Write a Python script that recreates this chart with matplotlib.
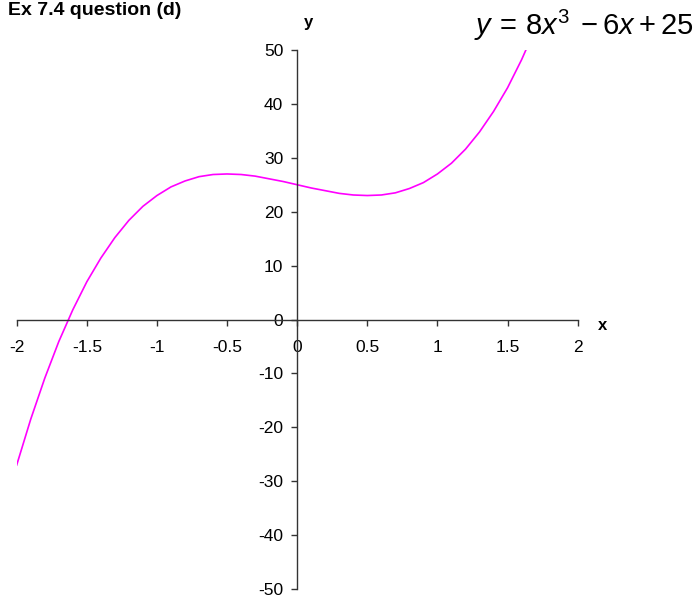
import numpy as np
import matplotlib
matplotlib.use("Agg")
import matplotlib.pyplot as plt

plt.rcParams["font.family"] = ["Liberation Sans", "DejaVu Sans"]
plt.rcParams["mathtext.fontset"] = "custom"
plt.rcParams["mathtext.rm"] = "Liberation Sans"
plt.rcParams["mathtext.it"] = "Liberation Sans:italic"

# Tabulated points of the cubic
x_vals = [-2.0, -1.9, -1.8, -1.7, -1.6, -1.5, -1.4, -1.3, -1.2, -1.1,
          -1.0, -0.9, -0.8, -0.7, -0.6, -0.5, -0.4, -0.3, -0.2, -0.1,
          0.0, 0.1, 0.2, 0.3, 0.4, 0.5, 0.6, 0.7, 0.8, 0.9,
          1.0, 1.1, 1.2, 1.3, 1.4, 1.5, 1.6, 1.7]
y_vals = [-27.0, -18.5, -10.9, -4.1, 1.8, 7.0, 11.4, 15.2, 18.4, 21.0,
          23.0, 24.6, 25.7, 26.5, 26.9, 27.0, 26.9, 26.6, 26.1, 25.6,
          25.0, 24.4, 23.9, 23.4, 23.1, 23.0, 23.1, 23.5, 24.3, 25.4,
          27.0, 29.0, 31.6, 34.8, 38.6, 43.0, 48.2, 54.1]

x_ticks = [-2, -1.5, -1, -0.5, 0, 0.5, 1, 1.5, 2]
x_tick_labels = ["-2", "-1.5", "-1", "-0.5", "0", "0.5", "1", "1.5", "2"]
y_ticks = [-50, -40, -30, -20, -10, 0, 10, 20, 30, 40, 50]

W, H = 698, 598
fig = plt.figure(figsize=(W / 100, H / 100), dpi=100)
ax = fig.add_axes([16.7 / W, 9 / H, 561 / W, 539 / H])

ax.plot(x_vals, y_vals, color="#FF00FF", linewidth=1.2)

ax.set_xlim(-2, 2)
ax.set_ylim(-50, 50)

# axes crossing at the origin
axis_col = "#333333"
ax.spines["left"].set_position(("data", 0))
ax.spines["bottom"].set_position(("data", 0))
ax.spines["right"].set_visible(False)
ax.spines["top"].set_visible(False)
for s in ("left", "bottom"):
    ax.spines[s].set_color(axis_col)
    ax.spines[s].set_linewidth(1.0)

ax.set_xticks(x_ticks)
ax.set_xticklabels(x_tick_labels)
ax.set_yticks(y_ticks)
ax.set_yticklabels([str(v) for v in y_ticks])
ax.tick_params(axis="x", direction="out", length=4, width=1, color=axis_col,
               pad=11, labelsize=12.5)
ax.tick_params(axis="y", direction="out", length=4, width=1, color=axis_col,
               pad=6, labelsize=12.5)
ax.patch.set_alpha(0)

fig.text(308 / W, 1 - 23 / H, "y", fontsize=12, fontweight="bold",
         ha="center", va="center")
fig.text(603 / W, 1 - 326 / H, "x", fontsize=12, fontweight="bold",
         ha="center", va="center")

fig.text(8 / W, 1 - 15 / H, "Ex 7.4 question (d)", fontsize=14,
         fontweight="bold", ha="left", va="baseline")

fig.text(693 / W, 1 - 35 / H, r"$y\,=\,8x^3\;-6x+25$", fontsize=21,
         ha="right", va="baseline")

fig.savefig("out.png", dpi=100)
